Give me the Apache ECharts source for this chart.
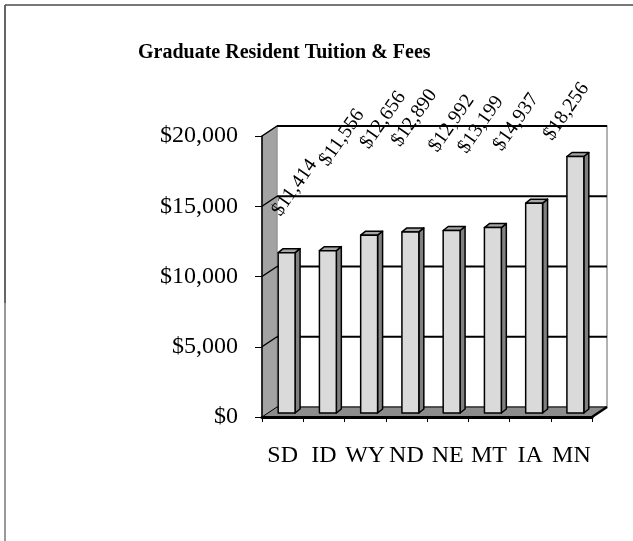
<!DOCTYPE html>
<html>
<head>
<meta charset="utf-8">
<script src="https://cdn.jsdelivr.net/npm/echarts@6/dist/echarts.min.js"></script>
<style>
html, body { margin: 0; padding: 0; background: #fff; }
#chart { width: 633px; height: 541px; }
</style>
</head>
<body>
<div id="chart"></div>
<script>
var states = ['SD', 'ID', 'WY', 'ND', 'NE', 'MT', 'IA', 'MN'];
var tuition = [11414, 11556, 12656, 12890, 12992, 13199, 14937, 18256];
var yTicks = [0, 5000, 10000, 15000, 20000];

// where each value label sits relative to its bar top (px)
var labelNudge = [[8, -65], [14, -113], [14, -115], [4, -114], [0, -107], [-12, -103], [-18, -81], [-9, -45]];

var FONT = '"Liberation Serif", "Times New Roman", serif';
var DX = 15, DY = -10;        // depth of the walls
var BDX = 5, BDY = -4;        // depth of a bar
var BAR_SHIFT_X = 4, BAR_SHIFT_Y = -4;

var chart = echarts.init(document.getElementById('chart'));

function money(v) {
    return '$' + v.toLocaleString('en-US');
}

function renderWalls(params, api) {
    var cs = params.coordSys;
    var x0 = cs.x, x1 = cs.x + cs.width;
    var yBase = api.coord([0, 0])[1];
    var yTop = api.coord([0, yTicks[yTicks.length - 1]])[1];
    var kids = [];
    kids.push({
        type: 'polygon',
        shape: { points: [[x0, yBase], [x0, yTop], [x0 + DX, yTop + DY], [x0 + DX, yBase + DY]] },
        style: { fill: '#a3a3a3', stroke: '#7f7f7f', lineWidth: 1 }
    });
    kids.push({
        type: 'rect',
        shape: { x: x0 + DX, y: yTop + DY, width: x1 - x0, height: yBase - yTop },
        style: { fill: '#fff', stroke: '#999', lineWidth: 1.5 }
    });
    kids.push({
        type: 'polygon',
        shape: { points: [[x0, yBase], [x1, yBase], [x1 + DX, yBase + DY], [x0 + DX, yBase + DY]] },
        style: { fill: '#8c8c8c', stroke: '#000', lineWidth: 1 }
    });
    kids.push({
        type: 'line',
        shape: { x1: x1, y1: yBase, x2: x1 + DX, y2: yBase + DY },
        style: { stroke: '#000', lineWidth: 2.5 }
    });
    yTicks.forEach(function (v) {
        if (v === 0) return;
        var y = api.coord([0, v])[1];
        kids.push({
            type: 'line',
            shape: { x1: x0, y1: y, x2: x0 + DX, y2: y + DY },
            style: { stroke: '#000', lineWidth: 1.5 }
        });
        kids.push({
            type: 'line',
            shape: { x1: x0 + DX, y1: y + DY, x2: x1 + DX, y2: y + DY },
            style: { stroke: '#000', lineWidth: 2 }
        });
    });
    return { type: 'group', children: kids };
}

function renderBar(params, api) {
    var i = api.value(0), v = api.value(1);
    var base = api.coord([i, 0]);
    var top = api.coord([i, v]);
    var bw = api.size([1, 0])[0] * 0.41;
    var cx = base[0] + BAR_SHIFT_X;
    var l = cx - bw / 2, r = cx + bw / 2;
    var yb = base[1] + BAR_SHIFT_Y, yt = top[1] + BAR_SHIFT_Y;
    var edge = { stroke: '#000', lineWidth: 1.5, lineJoin: 'round' };
    var nudge = labelNudge[i];
    return {
        type: 'group',
        children: [
            {
                type: 'polygon',
                shape: { points: [[r, yb], [r, yt], [r + BDX, yt + BDY], [r + BDX, yb + BDY]] },
                style: Object.assign({ fill: '#808080' }, edge)
            },
            {
                type: 'polygon',
                shape: { points: [[l, yt], [r, yt], [r + BDX, yt + BDY], [l + BDX, yt + BDY]] },
                style: Object.assign({ fill: '#a6a6a6' }, edge)
            },
            {
                type: 'rect',
                shape: { x: l, y: yt, width: bw, height: yb - yt },
                style: Object.assign({ fill: '#dadada' }, edge)
            },
            {
                type: 'text',
                x: cx + nudge[0],
                y: yt + nudge[1],
                rotation: 55 * Math.PI / 180,
                style: {
                    text: money(v),
                    font: '20px ' + FONT,
                    fill: '#000',
                    align: 'center',
                    verticalAlign: 'middle'
                }
            }
        ]
    };
}

var option = {
    animation: false,
    title: {
        text: 'Graduate Resident Tuition & Fees',
        left: 133,
        top: 38,
        textStyle: { fontFamily: FONT, fontWeight: 'bold', fontSize: 20, color: '#000' }
    },
    graphic: [
        { type: 'line', shape: { x1: 5, y1: 5, x2: 633, y2: 5 }, style: { stroke: '#777', lineWidth: 2 } },
        { type: 'line', shape: { x1: 5, y1: 5, x2: 5, y2: 303 }, style: { stroke: '#666', lineWidth: 2 } },
        { type: 'line', shape: { x1: 5, y1: 303, x2: 5, y2: 541 }, style: { stroke: '#999', lineWidth: 2 } }
    ],
    grid: { left: 262, right: 41, top: 136, bottom: 124 },
    xAxis: {
        type: 'category',
        data: states,
        z: 5,
        axisLine: { lineStyle: { color: '#000', width: 3 } },
        axisTick: { show: true, length: 5, lineStyle: { color: '#000', width: 1 } },
        axisLabel: { fontFamily: FONT, fontSize: 24, color: '#000', margin: 27, interval: 0 }
    },
    yAxis: {
        type: 'value',
        min: 0,
        max: 20000,
        interval: 5000,
        z: 5,
        axisLine: { show: true, lineStyle: { color: '#000', width: 1.5 } },
        axisTick: { show: true, length: 7, lineStyle: { color: '#000', width: 1 } },
        axisLabel: { fontFamily: FONT, fontSize: 24, color: '#000', margin: 24, formatter: money },
        splitLine: { show: false }
    },
    series: [
        {
            type: 'custom',
            z: 0,
            silent: true,
            renderItem: renderWalls,
            data: [[0, 0]]
        },
        {
            type: 'custom',
            z: 3,
            renderItem: renderBar,
            encode: { x: 0, y: 1 },
            data: tuition.map(function (v, i) { return [i, v]; })
        }
    ]
};

chart.setOption(option);
</script>
</body>
</html>
